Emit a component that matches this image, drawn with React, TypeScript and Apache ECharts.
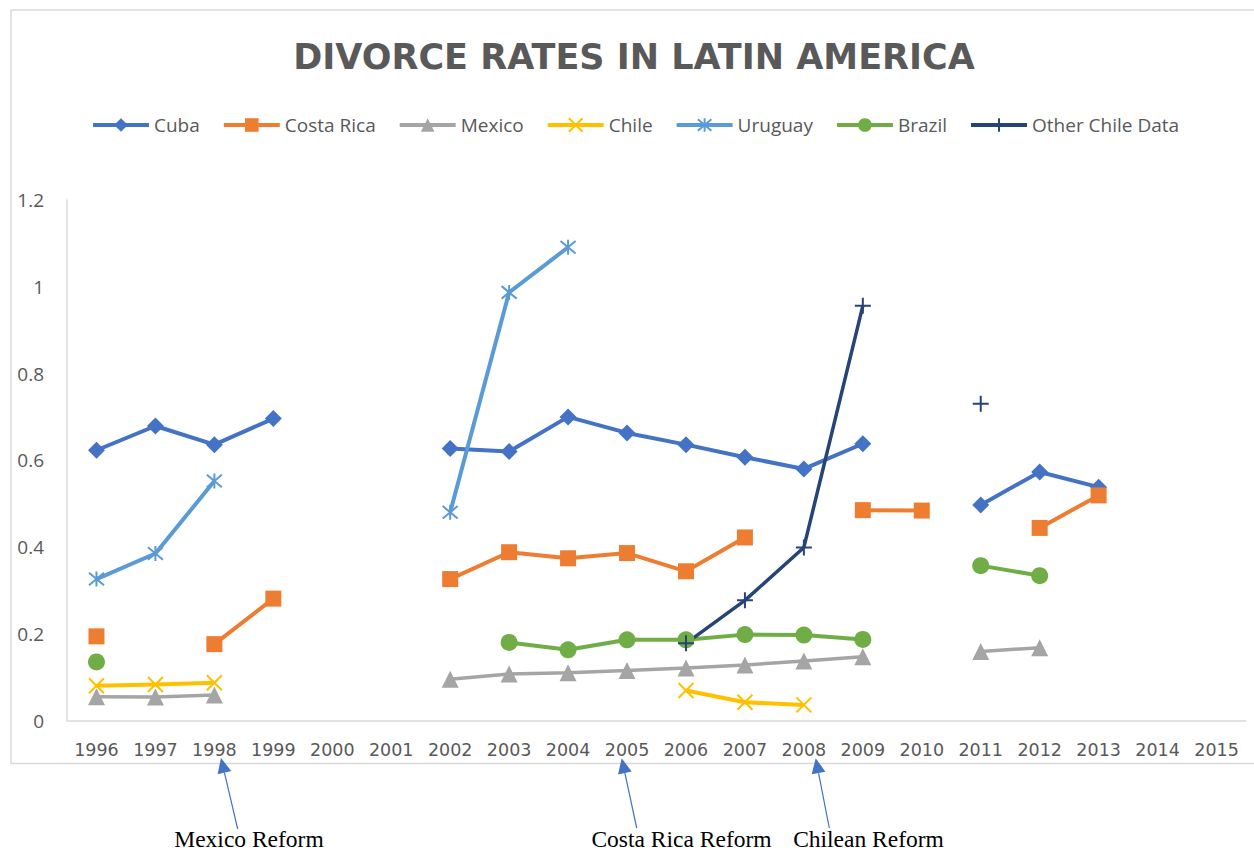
import React, { useEffect, useRef } from "react";
import * as echarts from "echarts";

const years = [
  "1996", "1997", "1998", "1999", "2000", "2001", "2002", "2003", "2004", "2005",
  "2006", "2007", "2008", "2009", "2010", "2011", "2012", "2013", "2014", "2015",
];

const cuba = [0.623, 0.679, 0.636, 0.696, null, null, 0.627, 0.62, 0.7, 0.663, 0.636, 0.607, 0.58, 0.638, null, 0.497, 0.573, 0.538, null, null];
const costaRica = [0.194, null, 0.176, 0.281, null, null, 0.326, 0.388, 0.374, 0.386, 0.344, 0.422, null, 0.485, 0.484, null, 0.444, 0.519, null, null];
const mexico = [0.055, 0.054, 0.059, null, null, null, 0.095, 0.107, 0.11, 0.115, 0.121, 0.128, 0.137, 0.147, null, 0.159, 0.168, null, null, null];
const chile = [0.08, 0.083, 0.087, null, null, null, null, null, null, null, 0.069, 0.042, 0.036, null, null, null, null, null, null, null];
const uruguay = [0.326, 0.385, 0.552, null, null, null, 0.48, 0.987, 1.091, null, null, null, null, null, null, null, null, null, null, null];
const brazil = [0.135, null, null, null, null, null, null, 0.18, 0.163, 0.186, 0.186, 0.198, 0.197, 0.187, null, 0.357, 0.334, null, null, null];
const otherChile = [null, null, null, null, null, null, null, null, null, null, 0.178, 0.277, 0.399, 0.956, null, 0.73, null, null, null, null];

const annotations = ["Mexico Reform", "Costa Rica Reform", "Chilean Reform"];

const TEXT = "#595959";
const AXIS = "#d9d9d9";
const ARROW = "#4472C4";

function arrow(tip: number[], tail: number[]) {
  const dx = tip[0] - tail[0];
  const dy = tip[1] - tail[1];
  const len = Math.sqrt(dx * dx + dy * dy);
  const ux = dx / len;
  const uy = dy / len;
  const head = 15;
  const half = 7;
  const bx = tip[0] - ux * head;
  const by = tip[1] - uy * head;
  const px = -uy;
  const py = ux;
  return [
    {
      type: "line",
      shape: { x1: tail[0], y1: tail[1], x2: bx, y2: by },
      style: { stroke: ARROW, lineWidth: 1.2 },
    },
    {
      type: "polygon",
      shape: {
        points: [
          [tip[0], tip[1]],
          [bx + px * half, by + py * half],
          [bx - px * half, by - py * half],
        ],
      },
      style: { fill: ARROW },
    },
  ];
}

function lineSeries(name: string, data: (number | null)[], color: string, symbol: string, extra: any = {}) {
  return {
    name,
    type: "line",
    data,
    connectNulls: false,
    showAllSymbol: true,
    symbol,
    symbolSize: 17,
    lineStyle: { color, width: 4 },
    itemStyle: { color, ...(extra.itemStyle || {}) },
    emphasis: { disabled: true },
    ...(extra.series || {}),
  };
}

function annotationText(text: string, x: number) {
  return {
    type: "text",
    x,
    y: 838.5,
    style: {
      text,
      fontFamily: "Liberation Serif",
      fontSize: 23.5,
      fill: "#000000",
      textAlign: "center",
      textVerticalAlign: "middle",
    },
  };
}

export default function App() {
  const ref = useRef<HTMLDivElement>(null);

  useEffect(() => {
    if (!ref.current) return;
    const chart = echarts.init(ref.current, undefined, { renderer: "svg" });
    const xPath = "path://M0,0L10,10M10,0L0,10";
    const starPath = "path://M0,0L10,10M10,0L0,10M5,-1L5,11";
    const plusPath = "path://M5,0L5,10M0,5L10,5";

    const option: any = {
      animation: false,
      backgroundColor: "#ffffff",
      title: {
        text: "DIVORCE RATES IN LATIN AMERICA",
        left: 634,
        top: 39,
        padding: 0,
        textAlign: "center",
        textStyle: {
          fontFamily: "DejaVu Sans",
          fontSize: 35,
          lineHeight: 35,
          fontWeight: "bold",
          color: TEXT,
        },
      },
      legend: {
        left: 91,
        top: 115.5,
        padding: 0,
        itemWidth: 56,
        itemHeight: 17,
        itemGap: 22,
        lineStyle: { width: 4 },
        textStyle: { fontFamily: "Open Sans", fontSize: 19, color: TEXT },
        data: ["Cuba", "Costa Rica", "Mexico", "Chile", "Uruguay", "Brazil", "Other Chile Data"],
      },
      grid: { left: 67, right: 8, top: 200, bottom: 129.5, containLabel: false },
      xAxis: {
        type: "category",
        data: years,
        boundaryGap: true,
        axisLine: { show: true, lineStyle: { color: AXIS, width: 1.5 } },
        axisTick: { show: false },
        axisLabel: {
          interval: 0,
          margin: 20,
          fontFamily: "DejaVu Sans",
          fontSize: 17.5,
          color: TEXT,
        },
        splitLine: { show: false },
      },
      yAxis: {
        type: "value",
        min: 0,
        max: 1.2,
        interval: 0.2,
        axisLine: { show: true, lineStyle: { color: AXIS, width: 1.5 } },
        axisTick: { show: false },
        splitLine: { show: false },
        axisLabel: {
          margin: 23,
          fontFamily: "Open Sans",
          fontSize: 19,
          color: TEXT,
        },
      },
      series: [
        lineSeries("Cuba", cuba, "#4472C4", "diamond"),
        lineSeries("Costa Rica", costaRica, "#ED7D31", "rect", { series: { symbolSize: 16 } }),
        lineSeries("Mexico", mexico, "#A5A5A5", "triangle", { series: { lineStyle: { color: "#A5A5A5", width: 3.5 } } }),
        lineSeries("Chile", chile, "#FFC000", xPath, {
          itemStyle: { borderColor: "#FFC000", borderWidth: 2 },
          series: { symbolSize: 15 },
        }),
        lineSeries("Uruguay", uruguay, "#5B9BD5", starPath, {
          itemStyle: { borderColor: "#5B9BD5", borderWidth: 2 },
          series: { symbolSize: 15 },
        }),
        lineSeries("Brazil", brazil, "#70AD47", "circle"),
        lineSeries("Other Chile Data", otherChile, "#264478", plusPath, {
          itemStyle: { borderColor: "#264478", borderWidth: 2 },
          series: { symbolSize: 16, lineStyle: { color: "#264478", width: 3.5 } },
        }),
      ],
      graphic: [
        {
          type: "rect",
          shape: { x: 11, y: 10, width: 1260, height: 753.5 },
          style: { fill: "none", stroke: AXIS, lineWidth: 1.5 },
          silent: true,
          z: -1,
        },
        ...arrow([221, 758], [237.7, 829]),
        ...arrow([621.7, 758.3], [636.7, 828]),
        ...arrow([815.7, 758.3], [829.3, 828]),
        annotationText(annotations[0], 249),
        annotationText(annotations[1], 681.5),
        annotationText(annotations[2], 868.5),
      ],
    };

    chart.setOption(option);
    return () => {
      chart.dispose();
    };
  }, []);

  return (
    <div
      ref={ref}
      style={{ position: "absolute", left: 0, top: 0, width: 1254, height: 850, background: "#fff" }}
    />
  );
}
